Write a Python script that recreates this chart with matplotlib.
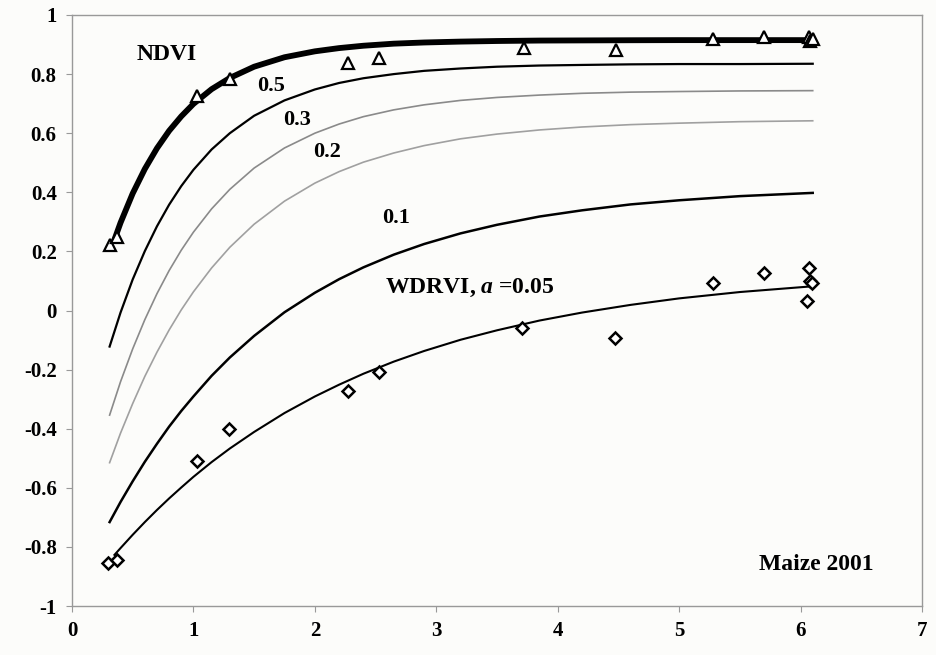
import numpy as np
import matplotlib
matplotlib.use("Agg")
import matplotlib.pyplot as plt

plt.rcParams['font.family'] = ['Liberation Serif', 'DejaVu Serif']
plt.rcParams['font.weight'] = 'bold'
plt.rcParams['mathtext.fontset'] = 'custom'
plt.rcParams['mathtext.it'] = 'Liberation Serif:italic:bold'
plt.rcParams['mathtext.rm'] = 'Liberation Serif:bold'

# x positions
x_a = [0.31, 0.4, 0.5, 0.6, 0.7, 0.8, 0.9, 1.0, 1.15, 1.3, 1.5, 1.75, 2.0, 2.2, 2.4,
       2.65, 2.9, 3.2, 3.5, 3.85, 4.2, 4.6, 5.0, 5.5, 6.1]
x_b = [0.35] + x_a[1:]

ndvi_fit = [0.240, 0.297, 0.396, 0.479, 0.549, 0.608, 0.657, 0.699, 0.749, 0.787,
            0.825, 0.857, 0.877, 0.888, 0.896, 0.903, 0.907, 0.910, 0.912, 0.9135,
            0.914, 0.9146, 0.915, 0.915, 0.915]
wdrvi_05 = [-0.122, -0.007, 0.105, 0.201, 0.285, 0.358, 0.421, 0.476, 0.545, 0.600,
            0.659, 0.711, 0.748, 0.770, 0.786, 0.800, 0.811, 0.819, 0.825, 0.829,
            0.831, 0.833, 0.834, 0.834, 0.835]
wdrvi_03 = [-0.354, -0.241, -0.130, -0.031, 0.057, 0.135, 0.204, 0.265, 0.344, 0.410,
            0.482, 0.550, 0.600, 0.631, 0.656, 0.679, 0.696, 0.711, 0.721, 0.729,
            0.735, 0.739, 0.741, 0.743, 0.744]
wdrvi_02 = [-0.515, -0.415, -0.315, -0.223, -0.141, -0.066, 0.002, 0.063, 0.144, 0.214,
            0.292, 0.370, 0.431, 0.470, 0.502, 0.533, 0.558, 0.581, 0.597, 0.611,
            0.621, 0.629, 0.634, 0.639, 0.642]
wdrvi_01 = [-0.716, -0.648, -0.578, -0.512, -0.451, -0.393, -0.340, -0.291, -0.221, -0.159,
            -0.086, -0.006, 0.060, 0.106, 0.146, 0.189, 0.225, 0.261, 0.290, 0.318,
            0.339, 0.359, 0.373, 0.387, 0.398]
wdrvi_005 = [-0.827, -0.804, -0.759, -0.716, -0.675, -0.636, -0.599, -0.563, -0.513, -0.467,
             -0.411, -0.347, -0.291, -0.251, -0.214, -0.173, -0.137, -0.099, -0.067, -0.034,
             -0.007, 0.019, 0.041, 0.0625, 0.082]

# measured points
ndvi_x = [0.31, 0.37, 1.03, 1.30, 2.27, 2.53, 3.72, 4.48, 5.28, 5.70, 6.07, 6.08, 6.10]
ndvi_y = [0.222, 0.249, 0.726, 0.783, 0.836, 0.853, 0.887, 0.882, 0.919, 0.927, 0.927, 0.912, 0.920]
wd_x = [0.30, 0.37, 1.03, 1.29, 2.27, 2.53, 3.71, 4.47, 5.28, 5.70, 6.07, 6.08, 6.05, 6.09]
wd_y = [-0.855, -0.844, -0.508, -0.402, -0.272, -0.207, -0.060, -0.094, 0.092, 0.128, 0.145, 0.100, 0.033, 0.092]

y_ticks = [-1, -0.8, -0.6, -0.4, -0.2, 0, 0.2, 0.4, 0.6, 0.8, 1]
y_labels = ['-1', '-0.8', '-0.6', '-0.4', '-0.2', '0', '0.2', '0.4', '0.6', '0.8', '1']

fig = plt.figure(figsize=(9.37, 6.55), dpi=100, facecolor='#fcfcfa')
ax = fig.add_axes([0.0768, 0.0748, 0.9072, 0.9023])
ax.set_facecolor('#fcfcfa')

ax.plot(x_a, wdrvi_02, color='#a0a0a0', lw=1.2)
ax.plot(x_a, wdrvi_03, color='#8a8a8a', lw=1.2)
ax.plot(x_a, wdrvi_05, color='black', lw=1.6)
ax.plot(x_a, wdrvi_01, color='black', lw=1.8)
ax.plot(x_b, wdrvi_005, color='black', lw=1.5)
ax.plot(x_b, ndvi_fit, color='black', lw=4.2)

ax.plot(ndvi_x, ndvi_y, '^', ms=8, mfc='white', mec='black', mew=1.6, zorder=5)
ax.plot(wd_x, wd_y, 'D', ms=6.5, mfc='white', mec='black', mew=1.8, zorder=5)

ax.text(0.78, 0.868, 'NDVI', fontsize=17, ha='center', va='center')
ax.text(1.64, 0.76, '0.5', fontsize=16, ha='center', va='center')
ax.text(1.85, 0.645, '0.3', fontsize=16, ha='center', va='center')
ax.text(2.10, 0.536, '0.2', fontsize=16, ha='center', va='center')
ax.text(2.67, 0.313, '0.1', fontsize=16, ha='center', va='center')
ax.text(2.58, 0.075, r'WDRVI, $a$ =0.05', fontsize=17, ha='left', va='center')
ax.text(6.6, -0.858, 'Maize 2001', fontsize=17, ha='right', va='center')

ax.set_xlim(0, 7)
ax.set_ylim(-1, 1)
ax.set_xticks(range(0, 8))
ax.set_yticks(y_ticks)
ax.set_yticklabels(y_labels)
for s in ax.spines.values():
    s.set_color('#999999')
    s.set_linewidth(1.0)
ax.tick_params(direction='out', length=4, color='#999999', labelsize=15, pad=7)

fig.savefig('out.png', dpi=100, facecolor=fig.get_facecolor())
